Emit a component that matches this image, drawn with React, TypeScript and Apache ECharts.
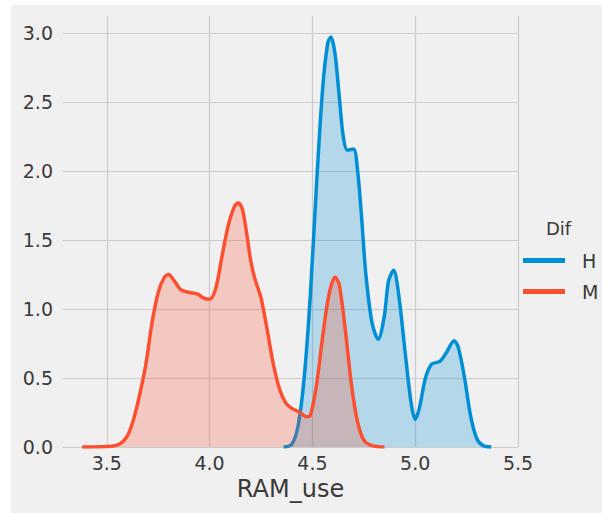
import React, { useEffect, useRef } from "react";
import * as echarts from "echarts";

const xTicks = ["3.5", "4.0", "4.5", "5.0", "5.5"];
const yTicks = ["0.0", "0.5", "1.0", "1.5", "2.0", "2.5", "3.0"];
const legendTitle = "Dif";
const seriesNames = ["H", "M"];
const xLabel = "RAM_use";

const hX = [4.36, 4.40, 4.43, 4.46, 4.49, 4.52, 4.55, 4.575, 4.59, 4.61, 4.63, 4.65, 4.67, 4.70, 4.72, 4.74, 4.76, 4.79, 4.82, 4.85, 4.87, 4.895, 4.92, 4.95, 4.98, 5.00, 5.02, 5.05, 5.08, 5.12, 5.15, 5.19, 5.21, 5.24, 5.27, 5.30, 5.33, 5.37];
const hY = [0, 0.02, 0.15, 0.5, 1.1, 1.9, 2.6, 2.93, 2.97, 2.85, 2.55, 2.25, 2.15, 2.16, 2.0, 1.65, 1.25, 0.9, 0.78, 0.95, 1.2, 1.28, 1.1, 0.7, 0.32, 0.2, 0.28, 0.5, 0.6, 0.62, 0.68, 0.77, 0.72, 0.5, 0.22, 0.06, 0.01, 0];

const mX = [3.38, 3.50, 3.56, 3.60, 3.63, 3.66, 3.69, 3.72, 3.75, 3.78, 3.80, 3.83, 3.86, 3.90, 3.94, 3.97, 4.00, 4.03, 4.06, 4.09, 4.12, 4.14, 4.16, 4.18, 4.20, 4.22, 4.25, 4.28, 4.31, 4.34, 4.37, 4.40, 4.44, 4.47, 4.49, 4.52, 4.55, 4.58, 4.61, 4.63, 4.66, 4.69, 4.72, 4.75, 4.79, 4.85];
const mY = [0, 0.003, 0.02, 0.08, 0.2, 0.38, 0.6, 0.9, 1.12, 1.23, 1.25, 1.2, 1.14, 1.12, 1.11, 1.08, 1.07, 1.15, 1.38, 1.6, 1.74, 1.77, 1.72, 1.55, 1.35, 1.22, 1.08, 0.85, 0.6, 0.42, 0.32, 0.28, 0.25, 0.22, 0.23, 0.45, 0.8, 1.1, 1.23, 1.18, 0.85, 0.45, 0.18, 0.05, 0.01, 0];

const colors = ["#008fd5", "#fc4f30"];
const FONT = "DejaVu Sans";
const TEXT = "#3a3a3a";

export default function App() {
  const ref = useRef<HTMLDivElement>(null);
  useEffect(() => {
    if (!ref.current) return;
    const chart = echarts.init(ref.current, null, { renderer: "svg" });
    const pairs = (xs: number[], ys: number[]) => xs.map((x, i) => [x, ys[i]]);
    chart.setOption({
      animation: false,
      backgroundColor: "#ffffff",
      textStyle: { fontFamily: FONT },
      grid: { left: 63, right: 84, top: 16, bottom: 66 },
      graphic: [
        { type: "rect", z: -10, silent: true, shape: { x: 11, y: 5, width: 591, height: 508 }, style: { fill: "#f0f0f0" } },
        { type: "text", left: 546, top: 219, style: { text: legendTitle, fontFamily: FONT, fontSize: 18, fill: TEXT } },
      ],
      legend: {
        orient: "vertical",
        left: 523,
        top: 251,
        padding: 0,
        itemGap: 12,
        itemWidth: 42,
        itemHeight: 5,
        icon: "rect",
        data: seriesNames,
        textStyle: { fontFamily: FONT, fontSize: 19, color: TEXT, padding: [0, 0, 0, 12] },
      },
      xAxis: {
        type: "value",
        min: 3.287,
        max: 5.5,
        minInterval: 0.5,
        maxInterval: 0.5,
        name: xLabel,
        nameLocation: "middle",
        nameGap: 29,
        nameTextStyle: { fontFamily: FONT, fontSize: 24, color: TEXT },
        axisLine: { show: false },
        axisTick: { show: false },
        axisLabel: {
          showMinLabel: false,
          fontFamily: FONT,
          fontSize: 19,
          color: TEXT,
          margin: 6,
          formatter: (v: number) => {
            const s = v.toFixed(1);
            return xTicks.includes(s) ? s : "";
          },
        },
        splitLine: { show: true, showMinLine: false, lineStyle: { color: "#cbcbcb", width: 1.2 } },
      },
      yAxis: {
        type: "value",
        min: 0,
        max: 3.123,
        minInterval: 0.5,
        maxInterval: 0.5,
        axisLine: { show: false },
        axisTick: { show: false },
        axisLabel: {
          showMaxLabel: false,
          fontFamily: FONT,
          fontSize: 19,
          color: TEXT,
          margin: 10,
          formatter: (v: number) => {
            const s = v.toFixed(1);
            return yTicks.includes(s) ? s : "";
          },
        },
        splitLine: { show: true, showMaxLine: false, lineStyle: { color: "#cbcbcb", width: 1.2 } },
      },
      series: [
        {
          name: seriesNames[0],
          type: "line",
          data: pairs(hX, hY),
          smooth: 0.3,
          showSymbol: false,
          symbol: "none",
          color: colors[0],
          lineStyle: { width: 3.5, color: colors[0] },
          areaStyle: { color: colors[0], opacity: 0.25 },
          z: 2,
        },
        {
          name: seriesNames[1],
          type: "line",
          data: pairs(mX, mY),
          smooth: 0.3,
          showSymbol: false,
          symbol: "none",
          color: colors[1],
          lineStyle: { width: 3.5, color: colors[1] },
          areaStyle: { color: colors[1], opacity: 0.25 },
          z: 3,
        },
      ],
    });
    return () => chart.dispose();
  }, []);
  return (
    <div style={{ position: "absolute", left: 0, top: 0, width: 602, height: 513 }}>
      <div ref={ref} style={{ width: 602, height: 513 }} />
    </div>
  );
}
